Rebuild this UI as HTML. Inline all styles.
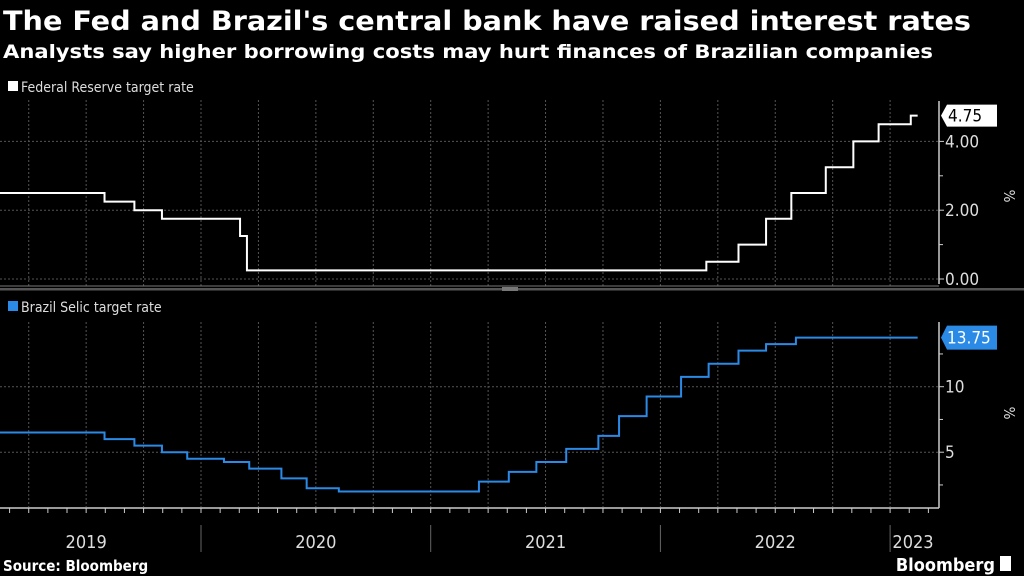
<!DOCTYPE html>
<html><head><meta charset="utf-8"><style>
html,body{margin:0;padding:0;background:#000;}
svg{display:block;font-family:"DejaVu Sans Condensed","DejaVu Sans","Liberation Sans",sans-serif;}
</style></head><body>
<svg id="c" width="1024" height="576" viewBox="0 0 1024 576">
<text x="3" y="30" fill="#fff" font-size="26.5" font-weight="bold" textLength="968" lengthAdjust="spacingAndGlyphs">The Fed and Brazil's central bank have raised interest rates</text>
<text x="3" y="58" fill="#fff" font-size="19" font-weight="bold" textLength="930" lengthAdjust="spacingAndGlyphs">Analysts say higher borrowing costs may hurt finances of Brazilian companies</text>
<rect x="8" y="81" width="10" height="10" fill="#fff"/>
<text x="21" y="92" fill="#ddd" font-size="14">Federal Reserve target rate</text>
<rect x="8" y="301" width="10" height="10" fill="#2a8ae6"/>
<text x="21" y="312" fill="#ddd" font-size="14">Brazil Selic target rate</text>
<rect x="0" y="288" width="1024" height="2.5" fill="#555"/>
<rect x="502" y="287" width="16" height="4" fill="#777"/>
<g id="g"></g>
<text x="3" y="571" fill="#fff" font-size="15" font-weight="bold">Source: Bloomberg</text>
<text x="995" y="571" fill="#fff" font-size="18" font-weight="bold" text-anchor="end">Bloomberg</text>
<rect x="1000" y="556" width="11" height="15" fill="#fff"/>
</svg>
<script>
const fedDates=[2019.0,2019.58,2019.71,2019.83,2020.17,2020.20,2022.20,2022.34,2022.46,2022.57,2022.72,2022.84,2022.95,2023.09];
const fedRates=[2.5,2.25,2.0,1.75,1.25,0.25,0.5,1.0,1.75,2.5,3.25,4.0,4.5,4.75];
const selicDates=[2019.0,2019.58,2019.71,2019.83,2019.94,2020.10,2020.21,2020.35,2020.46,2020.60,2021.21,2021.34,2021.46,2021.59,2021.73,2021.82,2021.94,2022.09,2022.21,2022.34,2022.46,2022.59];
const selicRates=[6.5,6.0,5.5,5.0,4.5,4.25,3.75,3.0,2.25,2.0,2.75,3.5,4.25,5.25,6.25,7.75,9.25,10.75,11.75,12.75,13.25,13.75];
const endDate=2023.12;
const fedTicks=["0.00","2.00","4.00"];
const selicTicks=["5","10"];
const years=["2019","2020","2021","2022","2023"];

const NS="http://www.w3.org/2000/svg";
const g=document.getElementById('g');
function mk(t,a){const e=document.createElementNS(NS,t);for(const k in a)e.setAttribute(k,a[k]);g.appendChild(e);return e;}
const X=t=>201+(t-2020)*229.7;
const Yf=v=>279-v*34.4;
const Ys=v=>386.7-(v-10)*13.1;
const AX=939;

function gridV(top,bot){
  for(let q=2019.25;q<=2023.01;q+=0.25){
    const e=mk('line',{x1:X(q),x2:X(q),y1:top,y2:bot,stroke:'#555','stroke-dasharray':'2,2','stroke-width':1});
    
    
  }
}
gridV(100,286);gridV(322,507);

[0,2,4].forEach((v,i)=>{
  const y=Yf(v);
  const l=mk('line',{x1:0,x2:AX,y1:y,y2:y,stroke:'#555','stroke-dasharray':'2,2'});
  
  
  const tk=mk('line',{x1:AX,x2:AX+5,y1:y,y2:y,stroke:'#ccc'});
  
  
  const t=mk('text',{x:AX+6,y:y+6,fill:'#ddd','font-size':17});
  t.textContent=fedTicks[i];
  
  
});
[1,3].forEach(v=>{const tk=mk('line',{x1:AX,x2:AX+4,y1:Yf(v),y2:Yf(v),stroke:'#ccc'});
  
  });
let a=mk('line',{x1:AX,x2:AX,y1:101,y2:284,stroke:'#ccc','stroke-width':1.5});


a=mk('line',{x1:0,x2:AX,y1:286,y2:286,stroke:'#777'});



function stepPath(d,v,Y){
  let p='M'+X(d[0])+','+Y(v[0]);
  for(let i=1;i<d.length;i++){p+=' H'+X(d[i])+' V'+Y(v[i]);}
  p+=' H'+X(endDate);return p;
}
let fl=mk('path',{d:stepPath(fedDates,fedRates,Yf),fill:'none',stroke:'#fff','stroke-width':2});


const fLast=fedRates[fedRates.length-1];
let fb=mk('path',{d:`M${AX+2},${Yf(fLast)} L${AX+8},${Yf(fLast)-11} H997 V${Yf(fLast)+11} H${AX+8} Z`,fill:'#fff'});


let ft=mk('text',{x:948,y:Yf(fLast)+6,fill:'#000','font-size':17});
ft.textContent=fLast.toFixed(2);


let p1=mk('text',{x:1004,y:196,fill:'#ddd','font-size':15,transform:'rotate(90 1004 196)','text-anchor':'middle'});
p1.textContent='%';



[5,10].forEach((v,i)=>{
  const y=Ys(v);
  const l=mk('line',{x1:0,x2:AX,y1:y,y2:y,stroke:'#555','stroke-dasharray':'2,2'});
  
  
  const tk=mk('line',{x1:AX,x2:AX+5,y1:y,y2:y,stroke:'#ccc'});
  
  
  const t=mk('text',{x:AX+6,y:y+6,fill:'#ddd','font-size':17});
  t.textContent=selicTicks[i];
  
  
});
[2.5,7.5,12.5].forEach(v=>{const tk=mk('line',{x1:AX,x2:AX+4,y1:Ys(v),y2:Ys(v),stroke:'#ccc'});
  
  });
a=mk('line',{x1:AX,x2:AX,y1:322,y2:508,stroke:'#ccc','stroke-width':1.5});


a=mk('line',{x1:0,x2:AX,y1:508,y2:508,stroke:'#ccc','stroke-width':1.5});


for(let m=2019+1/12;m<2023.2;m+=1/12){
  const tk=mk('line',{x1:X(m),x2:X(m),y1:508,y2:513,stroke:'#ccc'});
  
  
}
let sl=mk('path',{d:stepPath(selicDates,selicRates,Ys),fill:'none',stroke:'#2a8ae6','stroke-width':2});


const sLast=selicRates[selicRates.length-1];
let sb=mk('path',{d:`M${AX+2},${Ys(sLast)} L${AX+8},${Ys(sLast)-12} H997 V${Ys(sLast)+12} H${AX+8} Z`,fill:'#2a8ae6'});


let st=mk('text',{x:947,y:Ys(sLast)+6,fill:'#fff','font-size':17});
st.textContent=sLast.toFixed(2);


let p2=mk('text',{x:1004,y:413,fill:'#ddd','font-size':15,transform:'rotate(90 1004 413)','text-anchor':'middle'});
p2.textContent='%';



years.forEach((yr,i)=>{
  const s=2019+i, e=Math.min(s+1,2023.2);
  const cx=i===4?913:(X(s)+X(e))/2;
  const t=mk('text',{x:cx,y:548,fill:'#ddd','font-size':18,'text-anchor':'middle'});
  t.textContent=yr;
  
  
  if(i>0){const l=mk('line',{x1:X(s),x2:X(s),y1:525,y2:552,stroke:'#666'});
    
    }
});
</script>
</body></html>
